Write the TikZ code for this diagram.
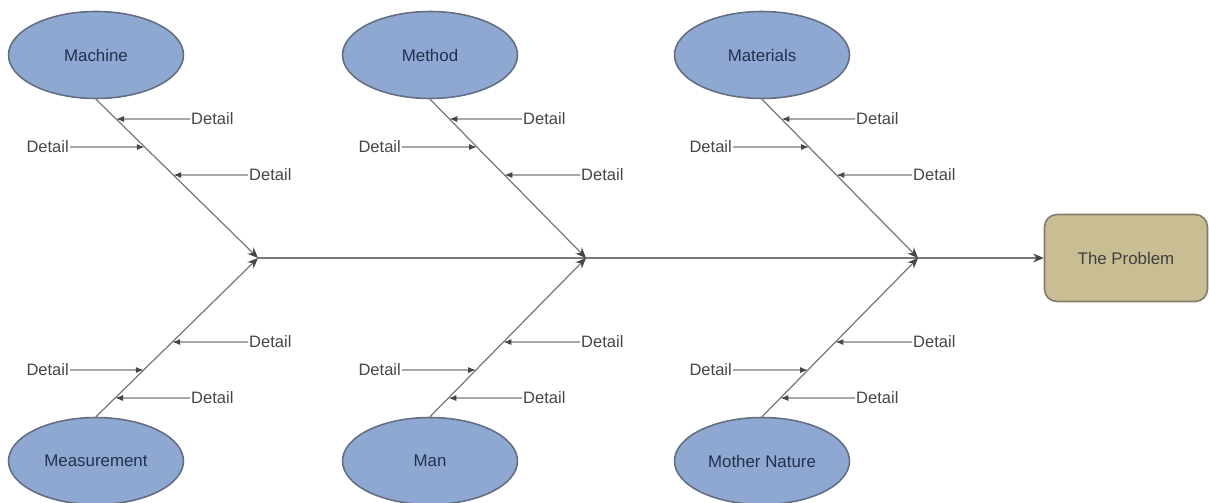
\documentclass[tikz,border=0pt]{standalone}
\usepackage{fontspec}
\setmainfont{Liberation Sans}
\usetikzlibrary{shapes.geometric, arrows.meta, positioning, calc}
\definecolor{causeblue}{RGB}{143,168,209}
\definecolor{causeedge}{RGB}{100,110,130}
\definecolor{causetext}{RGB}{35,48,78}
\definecolor{problemtan}{RGB}{201,189,148}
\definecolor{problemedge}{RGB}{130,124,106}
\definecolor{bonegray}{RGB}{120,120,120}
\definecolor{tipgray}{RGB}{70,70,70}
\definecolor{detailgray}{RGB}{70,70,70}

\begin{document}
\begin{tikzpicture}[
        x=0.02cm, y=-0.02cm,
        cause/.style={ellipse, draw=causeedge, fill=causeblue, line width=0.9pt, minimum width=3.5cm, minimum height=1.74cm, font=\fontsize{9.6}{11}\selectfont, text=causetext},
        problem/.style={rectangle, rounded corners=7pt, draw=problemedge, fill=problemtan, line width=0.9pt, minimum width=3.26cm, minimum height=1.74cm, font=\fontsize{9.6}{11}\selectfont, text=black!75},
        detail/.style={font=\fontsize{9.4}{11}\selectfont, text=detailgray, inner sep=0.5pt},
        bone/.style={-{Stealth[length=6pt,width=5pt,color=tipgray]}, bonegray, line width=0.7pt},
        detailarrow/.style={-{Latex[length=4.5pt,width=3.5pt,color=tipgray]}, bonegray, line width=0.7pt}
    ]
        \useasboundingbox (0,0) rectangle (1209,503);

        % causes and the effect
        \node[cause] (mach) at (96,55) {Machine};
        \node[cause] (meth) at (430,55) {Method};
        \node[cause] (mat) at (762,55) {Materials};
        \node[cause] (meas) at (96,461) {Measurement};
        \node[cause] (man) at (430,461) {Man};
        \node[cause] (nat) at (762,461) {Mother Nature};
        \node[problem] (prob) at (1126,258) {The Problem};

        \coordinate (j1) at (258,258);
        \coordinate (j2) at (586,258);
        \coordinate (j3) at (918,258);

        % spine and bones
        \draw[bone] (j1) -- (prob.west);
        \draw[bone] (mach.south) -- (j1);
        \draw[bone] (meas.north) -- (j1);
        \draw[bone] (meth.south) -- (j2);
        \draw[bone] (man.north) -- (j2);
        \draw[bone] (mat.south) -- (j3);
        \draw[bone] (nat.north) -- (j3);

        % details
        \node[detail, anchor=west] (machd1) at (190,119) {Detail};
        \node[detail, anchor=east] (machd2) at (70,147) {Detail};
        \node[detail, anchor=west] (machd3) at (248,175) {Detail};
        \node[detail, anchor=west] (measd1) at (248,342) {Detail};
        \node[detail, anchor=east] (measd2) at (70,370) {Detail};
        \node[detail, anchor=west] (measd3) at (190,398) {Detail};

        \node[detail, anchor=west] (methd1) at (522,119) {Detail};
        \node[detail, anchor=east] (methd2) at (402,147) {Detail};
        \node[detail, anchor=west] (methd3) at (580,175) {Detail};
        \node[detail, anchor=west] (mand1) at (580,342) {Detail};
        \node[detail, anchor=east] (mand2) at (402,370) {Detail};
        \node[detail, anchor=west] (mand3) at (522,398) {Detail};

        \node[detail, anchor=west] (matd1) at (855,119) {Detail};
        \node[detail, anchor=east] (matd2) at (733,147) {Detail};
        \node[detail, anchor=west] (matd3) at (912,175) {Detail};
        \node[detail, anchor=west] (natd1) at (912,342) {Detail};
        \node[detail, anchor=east] (natd2) at (733,370) {Detail};
        \node[detail, anchor=west] (natd3) at (855,398) {Detail};

        \draw[detailarrow] (machd1.west) -- (intersection of mach.south--j1 and machd1.west--machd1.east);
        \draw[detailarrow] (machd2.east) -- (intersection of mach.south--j1 and machd2.west--machd2.east);
        \draw[detailarrow] (machd3.west) -- (intersection of mach.south--j1 and machd3.west--machd3.east);
        \draw[detailarrow] (measd1.west) -- (intersection of meas.north--j1 and measd1.west--measd1.east);
        \draw[detailarrow] (measd2.east) -- (intersection of meas.north--j1 and measd2.west--measd2.east);
        \draw[detailarrow] (measd3.west) -- (intersection of meas.north--j1 and measd3.west--measd3.east);

        \draw[detailarrow] (methd1.west) -- (intersection of meth.south--j2 and methd1.west--methd1.east);
        \draw[detailarrow] (methd2.east) -- (intersection of meth.south--j2 and methd2.west--methd2.east);
        \draw[detailarrow] (methd3.west) -- (intersection of meth.south--j2 and methd3.west--methd3.east);
        \draw[detailarrow] (mand1.west) -- (intersection of man.north--j2 and mand1.west--mand1.east);
        \draw[detailarrow] (mand2.east) -- (intersection of man.north--j2 and mand2.west--mand2.east);
        \draw[detailarrow] (mand3.west) -- (intersection of man.north--j2 and mand3.west--mand3.east);

        \draw[detailarrow] (matd1.west) -- (intersection of mat.south--j3 and matd1.west--matd1.east);
        \draw[detailarrow] (matd2.east) -- (intersection of mat.south--j3 and matd2.west--matd2.east);
        \draw[detailarrow] (matd3.west) -- (intersection of mat.south--j3 and matd3.west--matd3.east);
        \draw[detailarrow] (natd1.west) -- (intersection of nat.north--j3 and natd1.west--natd1.east);
        \draw[detailarrow] (natd2.east) -- (intersection of nat.north--j3 and natd2.west--natd2.east);
        \draw[detailarrow] (natd3.west) -- (intersection of nat.north--j3 and natd3.west--natd3.east);
    \end{tikzpicture}
\end{document}
